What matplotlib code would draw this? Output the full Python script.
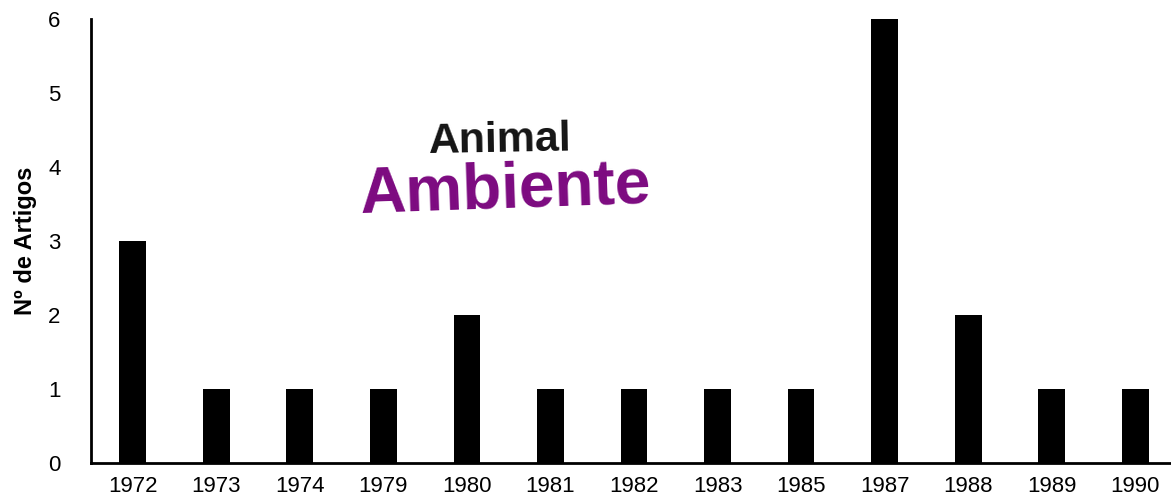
import matplotlib.pyplot as plt
import numpy as np

years = ['1972', '1973', '1974', '1979', '1980', '1981', '1982',
         '1983', '1985', '1987', '1988', '1989', '1990']
counts = [3, 1, 1, 1, 2, 1, 1, 1, 1, 6, 2, 1, 1]

plt.rcParams['font.family'] = ['Liberation Sans', 'DejaVu Sans']

fig = plt.figure(figsize=(11.71, 4.99), dpi=100)
ax = fig.add_axes([91 / 1171, 36 / 499, 1086 / 1171, 444 / 499])

x = np.arange(len(years))
ax.bar(x, counts, width=0.32, color='black')

ax.set_xlim(-0.5, len(years) - 0.5)
ax.set_ylim(0, 6)
ax.set_xticks(x)
ax.set_xticklabels(years)
ax.set_yticks(range(7))
ax.tick_params(axis='both', length=0, labelsize=16)
ax.tick_params(axis='y', pad=22)
ax.tick_params(axis='x', pad=9)

for side in ['top', 'right']:
    ax.spines[side].set_visible(False)
for side in ['left', 'bottom']:
    ax.spines[side].set_linewidth(2)

ax.set_ylabel('Nº de Artigos', fontsize=17, fontweight='bold', labelpad=8)

# logo text
fig.text(500 / 1171, 1 - 141 / 499, 'Animal', ha='center', va='center',
         fontsize=31, fontweight='bold', color='#141414', rotation=1)
fig.text(505 / 1171, 1 - 190 / 499, 'Ambiente', ha='center', va='center',
         fontsize=46, fontweight='bold', color='#7c0a80', rotation=2)

fig.savefig('out.png', dpi=100)
